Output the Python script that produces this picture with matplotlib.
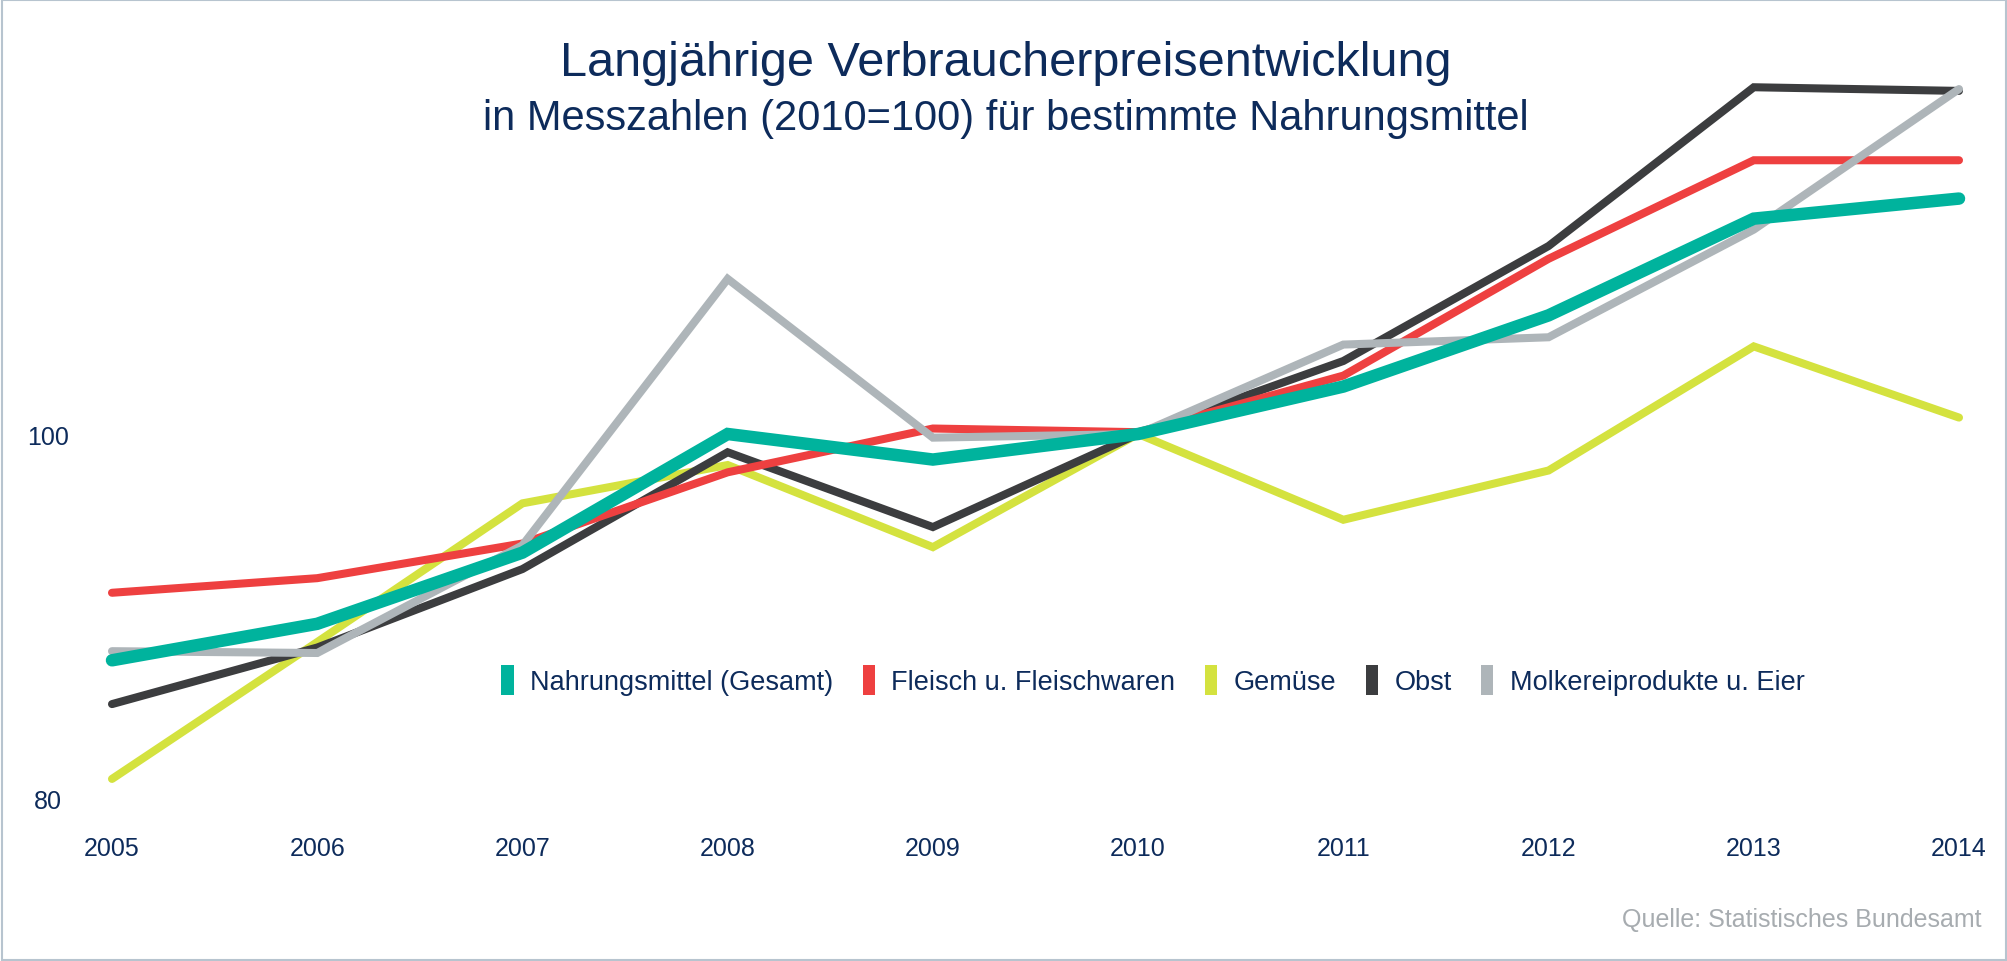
import matplotlib
matplotlib.use("Agg")
import matplotlib.pyplot as plt
from matplotlib.patches import Patch, Rectangle

plt.rcParams['font.family'] = ['Liberation Sans', 'DejaVu Sans']

years = [2005, 2006, 2007, 2008, 2009, 2010, 2011, 2012, 2013, 2014]

nahrung = [87.6, 89.6, 93.5, 100.0, 98.6, 100.0, 102.6, 106.5, 111.8, 112.9]
fleisch = [91.3, 92.1, 94.0, 97.9, 100.3, 100.1, 103.2, 109.6, 115.0, 115.0]
gemuese = [81.1, 88.6, 96.2, 98.3, 93.8, 100.0, 95.3, 98.0, 104.8, 100.9]
obst = [85.2, 88.3, 92.6, 99.0, 94.9, 100.0, 104.0, 110.3, 119.0, 118.8]
molkerei = [88.1, 88.0, 93.9, 108.5, 99.8, 100.0, 104.9, 105.3, 111.2, 118.9]

labels = ["Nahrungsmittel (Gesamt)", "Fleisch u. Fleischwaren", "Gemüse",
          "Obst", "Molkereiprodukte u. Eier"]
colors = ["#00b39d", "#ee4040", "#d4e23f", "#3c3d3f", "#aeb5b9"]

navy = "#0d2b5b"

W, H = 2008, 962
fig = plt.figure(figsize=(W / 100, H / 100), dpi=100)
ax = fig.add_axes([112 / W, 162 / H, 1847 / W, 730 / H])

# draw order: yellow, dark, red, grey, teal on top
series = [nahrung, fleisch, gemuese, obst, molkerei]
order = [2, 3, 1, 4, 0]
for i in order:
    lw = 9 if i == 0 else 5.8
    ax.plot(years, series[i], color=colors[i], lw=lw, solid_capstyle='round',
            solid_joinstyle='miter', clip_on=False, zorder=2 + order.index(i))

ax.set_xlim(2005, 2014)
ax.set_ylim(80, 120)
ax.set_xticks(years)
ax.set_xticklabels([str(y) for y in years])
ax.set_yticks([80, 100])
ax.set_yticklabels(["80", "100"])
for lbl in ax.get_yticklabels():
    lbl.set_horizontalalignment('center')
ax.tick_params(axis='x', length=0, pad=27, labelsize=18, labelcolor=navy)
ax.tick_params(axis='y', length=0, pad=46, labelsize=18, labelcolor=navy)
for s in ax.spines.values():
    s.set_visible(False)

fig.text(1006 / W, 1 - 64 / H, "Langjährige Verbraucherpreisentwicklung",
         ha='center', va='center', fontsize=35, color=navy)
fig.text(1006 / W, 1 - 119 / H, "in Messzahlen (2010=100) für bestimmte Nahrungsmittel",
         ha='center', va='center', fontsize=30, color=navy)
fig.text(1982 / W, 1 - 920 / H, "Quelle: Statistisches Bundesamt",
         ha='right', va='center', fontsize=18, color="#a7acb0")

handles = [Patch(facecolor=c, edgecolor='none') for c in colors]
fig.legend(handles, labels, ncol=5, frameon=False, loc='center',
           bbox_to_anchor=(1153 / W, 1 - 681 / H), fontsize=19.5,
           handlelength=0.45, handleheight=1.3, handletextpad=0.6,
           columnspacing=1.1, labelcolor=navy)

fig.patches.append(Rectangle((0.0008, 0.0015), 0.9984, 0.997, transform=fig.transFigure,
                             fill=False, edgecolor="#b7c4cf", lw=1.5))

fig.savefig("out.png", dpi=100, facecolor="white")
